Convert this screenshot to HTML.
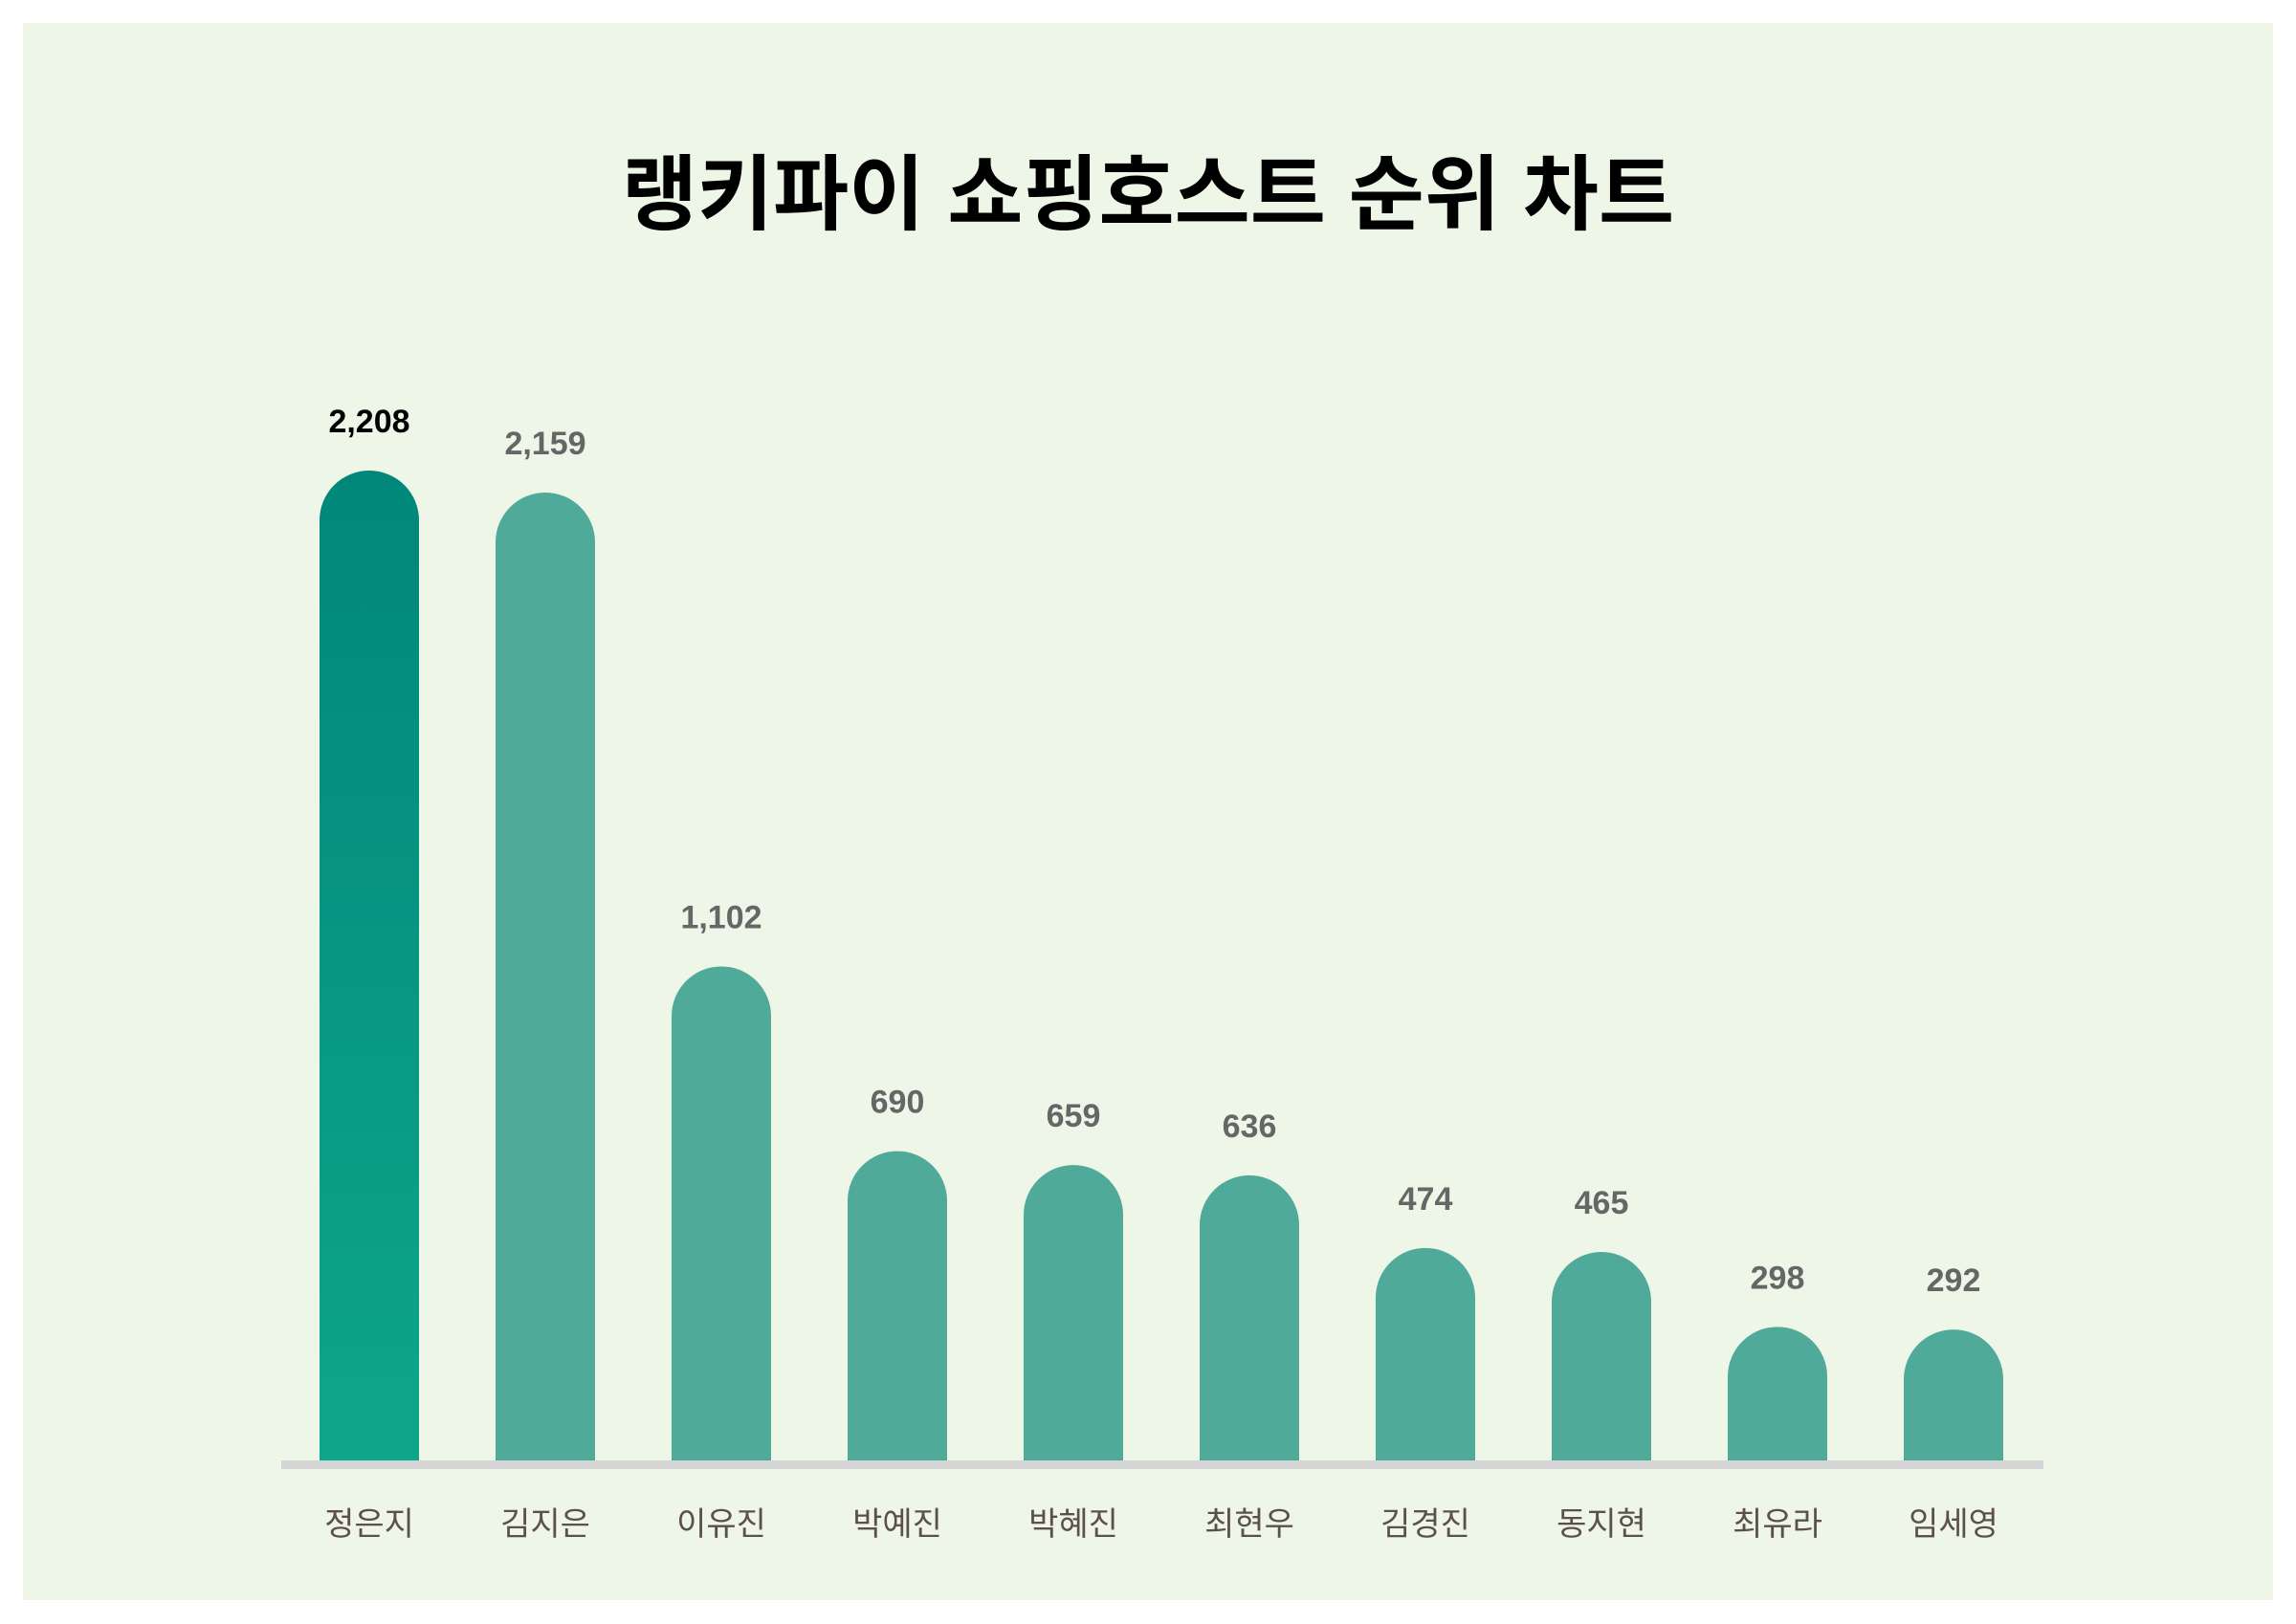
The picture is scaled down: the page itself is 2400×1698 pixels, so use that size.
<!DOCTYPE html>
<html><head><meta charset="utf-8"><style>
body{margin:0;width:2400px;height:1698px;background:#fff;overflow:hidden}
svg{display:block}
text{font-family:"Liberation Sans","Noto Sans CJK KR",sans-serif}
</style></head><body>
<svg id="chart" width="2400" height="1698">
<defs><linearGradient id="g1" x1="0" y1="0" x2="0" y2="1"><stop offset="0" stop-color="#00877a"/><stop offset="1" stop-color="#0ea68b"/></linearGradient></defs>
<rect x="24" y="24" width="2352" height="1649" fill="#eef6e8"/>
<text x="1200" y="233" text-anchor="middle" font-size="86" font-weight="bold" fill="#000">랭키파이 쇼핑호스트 순위 차트</text>
<rect x="294" y="1527" width="1842" height="9" fill="#d5d5d5"/>
<g id="bars"></g>
</svg>
<script>
const categories=["정은지","김지은","이유진","박예진","박혜진","최현우","김경진","동지현","최유라","임세영"];
const values=[2208,2159,1102,690,659,636,474,465,298,292];
const labels=["2,208","2,159","1,102","690","659","636","474","465","298","292"];
const baseY=1527, scale=1035/2208, x0=386, step=184, bw=104;
const y=v=>baseY-v*scale;
const g=document.getElementById('bars');
const NS="http://www.w3.org/2000/svg";
categories.forEach((c,i)=>{
  const cx=x0+i*step, top=y(values[i]), r=bw/2, l=cx-r;
  const p=document.createElementNS(NS,'path');
  p.setAttribute('d',`M${l},${baseY} L${l},${top+r} A${r},${r} 0 0 1 ${l+bw},${top+r} L${l+bw},${baseY} Z`);
  p.setAttribute('fill',i===0?'url(#g1)':'#50aa99');
  
  
  g.appendChild(p);
  const t=document.createElementNS(NS,'text');
  t.setAttribute('x',cx);t.setAttribute('y',top-40);
  t.setAttribute('text-anchor','middle');t.setAttribute('font-size','34');t.setAttribute('font-weight','bold');
  t.setAttribute('fill',i===0?'#000':'#666');
  t.textContent=labels[i];
  
  
  g.appendChild(t);
  const c2=document.createElementNS(NS,'text');
  c2.setAttribute('x',cx);c2.setAttribute('y',1605);
  c2.setAttribute('text-anchor','middle');c2.setAttribute('font-size','34');c2.setAttribute('fill','#5d5049');
  c2.textContent=c;
  
  
  g.appendChild(c2);
});
</script>
</body></html>
